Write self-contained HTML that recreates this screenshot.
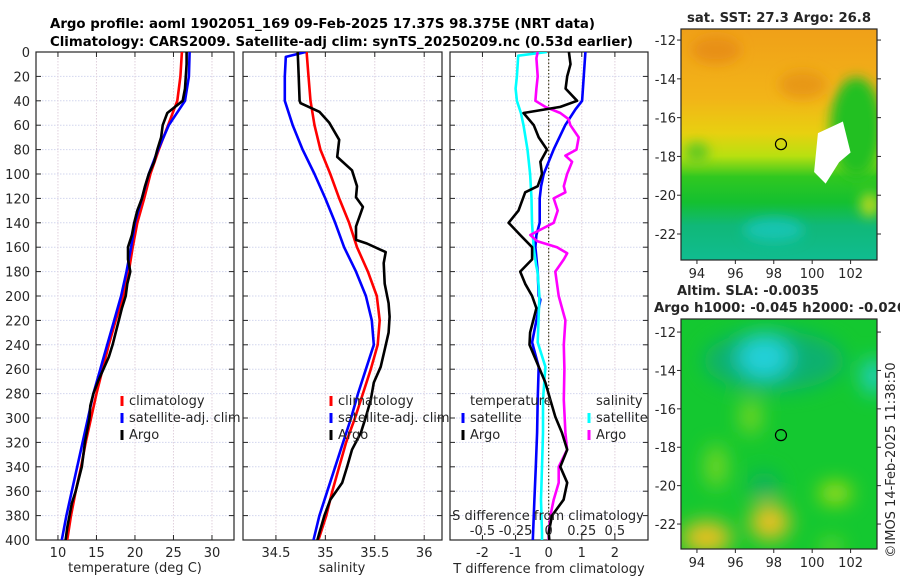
<!DOCTYPE html>
<html><head><meta charset="utf-8"><style>
html,body{margin:0;padding:0;background:#fff;}
svg{display:block;font-family:"DejaVu Sans","Liberation Sans",sans-serif;}
</style></head><body>
<svg id="fig" width="900" height="580" viewBox="0 0 900 580" xmlns="http://www.w3.org/2000/svg">
<defs>
<clipPath id="c1"><rect x="36" y="52" width="198" height="488"/></clipPath>
<clipPath id="c2"><rect x="243" y="52" width="199" height="488"/></clipPath>
<clipPath id="c3"><rect x="450" y="52" width="198" height="488"/></clipPath>
<clipPath id="cm1"><rect x="681" y="29" width="196" height="231"/></clipPath>
<clipPath id="cm2"><rect x="681" y="319" width="196" height="230"/></clipPath>
<filter id="blur6"><feGaussianBlur stdDeviation="6"/></filter>
<filter id="blur10"><feGaussianBlur stdDeviation="10"/></filter>
<linearGradient id="sstg" x1="0" y1="0" x2="0" y2="1">
<stop offset="0" stop-color="#f0a018"/><stop offset="0.3" stop-color="#f2b418"/>
<stop offset="0.45" stop-color="#e8d010"/><stop offset="0.55" stop-color="#b8e010"/>
<stop offset="0.64" stop-color="#30c820"/><stop offset="0.75" stop-color="#14c030"/>
<stop offset="0.85" stop-color="#10b878"/><stop offset="1" stop-color="#10bc90"/>
</linearGradient>
</defs>
<text x="50" y="28" font-size="13" font-weight="bold" textLength="545" lengthAdjust="spacingAndGlyphs">Argo profile: aoml 1902051_169 09-Feb-2025 17.37S 98.375E (NRT data)</text>
<text x="50" y="46" font-size="13" font-weight="bold" textLength="583" lengthAdjust="spacingAndGlyphs">Climatology: CARS2009. Satellite-adj clim: synTS_20250209.nc (0.53d earlier)</text>
<g id="axes"></g>
<g id="maps"></g>
</svg>
<script>
// ---------- data ----------
const depthStd = [0,20,40,60,80,100,120,140,160,180,200,220,240,260,280,300,320,340,360,380,400];
const depth10 = [0,10,20,30,40,50,60,70,80,90,100,110,120,130,140,150,160,170,180,190,200,210,220,230,240,250,260,270,280,290,300,310,320,330,340,350,360,370,380,390,400];
const tempClim = [26.1,25.9,25.5,24.3,23.1,22.0,21.2,20.3,19.7,19.2,18.5,17.5,16.6,15.8,15.0,14.3,13.6,13.0,12.3,11.7,11.2];
const tempSat = [27.1,27.0,26.5,24.4,23.0,21.8,20.9,20.0,19.5,18.9,18.2,17.3,16.4,15.5,14.6,13.9,13.2,12.5,11.8,11.1,10.5];
const tempArgo = [26.7,26.7,26.6,26.5,26.2,24.2,23.6,23.4,22.9,22.5,21.8,21.3,20.9,20.3,19.9,19.6,19.1,19.1,19.4,19.0,18.8,18.3,17.9,17.5,17.1,16.6,15.9,15.2,14.6,14.2,14.1,13.8,13.5,13.3,13.1,12.7,12.3,11.8,11.5,11.2,11.0];
const salClim = [34.81,34.83,34.85,34.89,34.95,35.05,35.14,35.24,35.32,35.43,35.52,35.55,35.53,35.46,35.38,35.30,35.21,35.14,35.07,35.01,34.93];
const salSatDepth = [0,4,20,40,60,80,100,120,140,160,180,200,220,240,260,280,300,320,340,360,380,400];
const salSat = [34.80,34.60,34.59,34.59,34.67,34.77,34.89,35.00,35.10,35.19,35.31,35.41,35.47,35.49,35.41,35.33,35.26,35.18,35.10,35.02,34.94,34.88];
const salArgoDepth = [0,20,40,42,49,58,72,86,97,110,119,127,143,154,157,164,173,190,206,217,230,244,258,271,285,299,312,326,340,353,367,380,394,400];
const salArgo = [34.72,34.73,34.74,34.75,34.94,35.04,35.14,35.12,35.27,35.32,35.31,35.38,35.31,35.31,35.42,35.61,35.59,35.60,35.64,35.65,35.64,35.60,35.56,35.49,35.46,35.41,35.36,35.27,35.22,35.17,35.05,34.99,34.94,34.92];
const dTSatDepth = [0,40,47,60,80,100,110,120,140,150,160,180,200,203,238,258,285,312,340,367,394,400];
const dTSat = [1.11,1.01,0.81,0.50,0.15,-0.15,-0.23,-0.27,-0.27,-0.37,-0.40,-0.33,-0.30,-0.25,-0.50,-0.30,-0.33,-0.35,-0.39,-0.43,-0.47,-0.48];
const dTArgoDepth = [0,10,20,30,40,45,50,60,70,80,90,100,110,115,130,140,150,160,170,180,190,200,210,230,240,258,271,285,299,312,326,340,353,367,380,394,400];
const dTArgo = [0.61,0.66,0.56,0.51,0.86,0.35,-0.76,-0.45,-0.30,-0.05,-0.25,-0.20,-0.33,-0.71,-0.91,-1.21,-0.86,-0.50,-0.50,-0.86,-0.71,-0.50,-0.37,-0.56,-0.58,-0.30,-0.10,0.05,0.20,0.40,0.56,0.35,0.56,0.45,0.10,0.00,0.02];
const dSSatDepth = [0,3,20,30,40,50,60,80,100,120,140,160,175,180,200,238,258,285,312,340,367,394,400];
const dSSat = [-0.013,-0.23,-0.24,-0.25,-0.24,-0.21,-0.19,-0.16,-0.14,-0.13,-0.126,-0.114,-0.094,-0.084,-0.07,-0.083,-0.025,-0.043,-0.043,-0.05,-0.058,-0.05,-0.05];
const dSArgoDepth = [0,5,20,30,40,45,50,55,60,70,80,85,90,100,110,115,120,130,140,145,150,155,160,165,170,180,200,220,240,260,285,312,326,340,353,367,380,394,400];
const dSArgo = [-0.083,-0.093,-0.083,-0.093,-0.10,-0.025,0.088,0.15,0.164,0.227,0.21,0.126,0.177,0.139,0.114,0.126,0.038,0.068,0.038,-0.05,-0.139,-0.088,0.063,0.14,0.114,0.05,0.076,0.126,0.114,0.119,0.114,0.126,0.139,0.076,0.076,0.038,0.013,0.0,0.0];
const yTicks = [0,20,40,60,80,100,120,140,160,180,200,220,240,260,280,300,320,340,360,380,400];
const tTicks = [10,15,20,25,30];
const sTicks = [34.5,35,35.5,36];
const sTickLabels = ["34.5","35","35.5","36"];
const dTTicks = [-2,-1,0,1,2];
const dSTicks = [-0.5,-0.25,0,0.25,0.5];
const dSTickLabels = ["-0.5","-0.25","0","0.25","0.5"];
const lonTicks = [94,96,98,100,102];
const latTicks = [-12,-14,-16,-18,-20,-22];
const argoLon = 98.375, argoLat = -17.37;

// ---------- scales ----------
const NS="http://www.w3.org/2000/svg";
const axes=document.getElementById('axes');
const Y0=52, Y1=540, D1=400;
const yD = d => Y0 + d*(Y1-Y0)/D1;
const panels = [
 {x0:36,x1:234,v0:7.15,v1:32.86,clip:'c1'},
 {x0:243,x1:442,v0:34.167,v1:36.18,clip:'c2'},
 {x0:450,x1:648,v0:-2.98,v1:3.0,clip:'c3'}
];
const xS = (p,v) => p.x0 + (v-p.v0)*(p.x1-p.x0)/(p.v1-p.v0);
function el(tag, attrs, parent){const e=document.createElementNS(NS,tag);for(const k in attrs)e.setAttribute(k,attrs[k]);(parent||axes).appendChild(e);return e;}
function txt(x,y,s,size,anchor,parent){const t=el('text',{x:x,y:y,'font-size':size,'text-anchor':anchor||'middle',fill:'#262626'},parent);t.textContent=s;return t;}

function panel(p, ticks, labels, name){
  const g=el('g',{});
  
  
  yTicks.forEach(d=>{
    const l=el('line',{x1:p.x0,x2:p.x1,y1:yD(d),y2:yD(d),stroke:'#d2d6ee','stroke-width':1,'stroke-dasharray':'1.5,1.5'},g);
    
    
    el('line',{x1:p.x0,x2:p.x0+5,y1:yD(d),y2:yD(d),stroke:'#262626'},g);
    el('line',{x1:p.x1-5,x2:p.x1,y1:yD(d),y2:yD(d),stroke:'#262626'},g);
  });
  ticks.forEach((v,i)=>{
    const x=xS(p,v);
    const l=el('line',{x1:x,x2:x,y1:Y0,y2:Y1,stroke:'#e0d0dc','stroke-width':1,'stroke-dasharray':'1.5,1.5'},g);
    
    
    el('line',{x1:x,x2:x,y1:Y1-5,y2:Y1,stroke:'#262626'},g);
    el('line',{x1:x,x2:x,y1:Y0,y2:Y0+5,stroke:'#262626'},g);
    const t=txt(x,557,labels[i],13,'middle',g);
    
    
  });
  const r=el('rect',{x:p.x0,y:Y0,width:p.x1-p.x0,height:Y1-Y0,fill:'none',stroke:'#262626','stroke-width':1.2},g);
  
  
  return g;
}
function series(p, depths, vals, color, name, scale){
  scale = scale||1;
  const pts = depths.map((d,i)=>xS(p,vals[i]*scale).toFixed(1)+','+yD(d).toFixed(1)).join(' ');
  const pl=el('polyline',{points:pts,fill:'none',stroke:color,'stroke-width':2.6,'stroke-linejoin':'round','clip-path':'url(#'+p.clip+')'});
  
  
}
function legend(x,y,color,label,name){
  const m=el('line',{x1:x,x2:x,y1:y-9,y2:y+1,stroke:color,'stroke-width':3});
  
  
  const t=txt(x+7,y,label,13,'start');
  
  
}

// panel 1
panel(panels[0], tTicks, tTicks.map(String), 'temperature');
yTicks.forEach(d=>{const t=txt(30,yD(d)+5,String(d),13,'end');
  
  });
let t1=txt(135,572,'temperature (deg C)',13,'middle');


series(panels[0], depthStd, tempClim, '#ff0000', 'temp-climatology-line');
series(panels[0], depthStd, tempSat, '#0000ff', 'temp-satellite-line');
series(panels[0], depth10, tempArgo, '#000000', 'temp-argo-line');
legend(122,405,'#ff0000','climatology','temp-legend-climatology');
legend(122,422,'#0000ff','satellite-adj. clim','temp-legend-satellite');
legend(122,439,'#000000','Argo','temp-legend-argo');

// panel 2
panel(panels[1], sTicks, sTickLabels, 'salinity');
let t2=txt(342,572,'salinity',13,'middle');


series(panels[1], depthStd, salClim, '#ff0000', 'sal-climatology-line');
series(panels[1], salSatDepth, salSat, '#0000ff', 'sal-satellite-line');
series(panels[1], salArgoDepth, salArgo, '#000000', 'sal-argo-line');
legend(331,405,'#ff0000','climatology','sal-legend-climatology');
legend(331,422,'#0000ff','satellite-adj. clim','sal-legend-satellite');
legend(331,439,'#000000','Argo','sal-legend-argo');

// panel 3
panel(panels[2], dTTicks, dTTicks.map(String), 'difference');
const zx=xS(panels[2],0);
let zl=el('line',{x1:zx,x2:zx,y1:Y0,y2:Y1,stroke:'#404020','stroke-width':1.2,'stroke-dasharray':'1.5,2'});


series(panels[2], dTSatDepth, dTSat, '#0000ff', 'dT-satellite-line');
series(panels[2], dSSatDepth, dSSat, '#00ffff', 'dS-satellite-line', 4);
series(panels[2], dSArgoDepth, dSArgo, '#ff00ff', 'dS-argo-line', 4);
series(panels[2], dTArgoDepth, dTArgo, '#000000', 'dT-argo-line');
let t3=txt(549,573,'T difference from climatology',13,'middle');


let t4=txt(548,520,'S difference from climatology',13,'middle');


dSTicks.forEach((v,i)=>{const t=txt(xS(panels[2],v*4),535,dSTickLabels[i],13,'middle');
  
  });
let lt=txt(470,405,'temperature',13,'start');


let ls=txt(596,405,'salinity',13,'start');


legend(463,422,'#0000ff','satellite','diff-legend-t-satellite');
legend(463,439,'#000000','Argo','diff-legend-t-argo');
legend(589,422,'#00ffff','satellite','diff-legend-s-satellite');
legend(589,439,'#ff00ff','Argo','diff-legend-s-argo');

// ---------- maps ----------
const maps=document.getElementById('maps');
const m1={x0:681,x1:877,y0:29,y1:260,lon0:93.17,lon1:103.375,lat0:-11.43,lat1:-23.34,clip:'cm1'};
const m2={x0:681,x1:877,y0:319,y1:549,lon0:93.17,lon1:103.375,lat0:-11.32,lat1:-23.3,clip:'cm2'};
const mx=(m,lon)=>m.x0+(lon-m.lon0)*(m.x1-m.x0)/(m.lon1-m.lon0);
const my=(m,lat)=>m.y0+(lat-m.lat0)*(m.y1-m.y0)/(m.lat1-m.lat0);
function mapAxes(m,name){
  const fr=el('rect',{x:m.x0,y:m.y0,width:m.x1-m.x0,height:m.y1-m.y0,fill:'none',stroke:'#262626','stroke-width':1.2},maps);
  
  
  lonTicks.forEach(v=>{const x=mx(m,v);
    el('line',{x1:x,x2:x,y1:m.y1,y2:m.y1+4,stroke:'#262626'},maps);
    const t=txt(x,m.y1+18,String(v),13,'middle',maps);
    
    });
  latTicks.forEach(v=>{const y=my(m,v);
    el('line',{x1:m.x0-4,x2:m.x0,y1:y,y2:y,stroke:'#262626'},maps);
    el('line',{x1:m.x1,x2:m.x1+4,y1:y,y2:y,stroke:'#262626'},maps);
    const t=txt(m.x0-5,y+5,String(v),13,'end',maps);
    
    });
  const c=el('circle',{cx:mx(m,argoLon),cy:my(m,argoLat),r:5.5,fill:'none',stroke:'#000','stroke-width':1.2},maps);
  
  
}
// SST map
const g1=el('g',{'clip-path':'url(#cm1)'},maps);


el('rect',{x:681,y:29,width:196,height:231,fill:'url(#sstg)'},g1);
const gb1=el('g',{filter:'url(#blur6)'},g1);
el('ellipse',{cx:mx(m1,102.3),cy:my(m1,-16.5),rx:26,ry:50,fill:'#20c020'},gb1);
el('ellipse',{cx:mx(m1,99.5),cy:my(m1,-14.3),rx:24,ry:14,fill:'#e89818'},gb1);
el('ellipse',{cx:mx(m1,95),cy:my(m1,-12.5),rx:25,ry:14,fill:'#e89018'},gb1);
el('ellipse',{cx:mx(m1,94),cy:my(m1,-17.8),rx:12,ry:10,fill:'#60c820'},gb1);
el('ellipse',{cx:mx(m1,98),cy:my(m1,-21.8),rx:30,ry:12,fill:'#18c4b0'},gb1);
el('ellipse',{cx:mx(m1,103),cy:my(m1,-20.5),rx:10,ry:12,fill:'#b0d820'},gb1);
el('path',{d:'M'+mx(m1,100.3)+' '+my(m1,-16.8)+' L'+mx(m1,101.6)+' '+my(m1,-16.2)+' L'+mx(m1,102)+' '+my(m1,-17.8)+' L'+mx(m1,101.4)+' '+my(m1,-18.3)+' L'+mx(m1,100.7)+' '+my(m1,-19.4)+' L'+mx(m1,100.1)+' '+my(m1,-18.8)+' Z',fill:'#ffffff'},g1);
mapAxes(m1,'sst-map');
let mt1=txt(779,22,'sat. SST: 27.3 Argo: 26.8',13,'middle',maps);
mt1.setAttribute('font-weight','bold');
mt1.setAttribute('textLength','184');
mt1.setAttribute('lengthAdjust','spacingAndGlyphs');


// SLA map
const g2=el('g',{'clip-path':'url(#cm2)'},maps);


el('rect',{x:681,y:319,width:196,height:230,fill:'#14c830'},g2);
const gb2=el('g',{filter:'url(#blur10)'},g2);
el('ellipse',{cx:mx(m2,98),cy:my(m2,-13.5),rx:70,ry:30,fill:'#10b070'},gb2);
el('ellipse',{cx:mx(m2,97.5),cy:my(m2,-13.3),rx:26,ry:22,fill:'#20d0d8'},gb2);
el('ellipse',{cx:mx(m2,103.2),cy:my(m2,-14.3),rx:12,ry:18,fill:'#20d0c8'},gb2);
el('ellipse',{cx:mx(m2,96.8),cy:my(m2,-16.4),rx:10,ry:18,fill:'#80d820'},gb2);
el('ellipse',{cx:mx(m2,95),cy:my(m2,-19),rx:10,ry:22,fill:'#80d820'},gb2);
el('ellipse',{cx:mx(m2,94.5),cy:my(m2,-22.7),rx:25,ry:16,fill:'#f0c020'},gb2);
el('ellipse',{cx:mx(m2,97.8),cy:my(m2,-21.9),rx:20,ry:18,fill:'#f0c020'},gb2);
el('ellipse',{cx:mx(m2,101.2),cy:my(m2,-20.4),rx:16,ry:10,fill:'#c0e010'},gb2);
el('ellipse',{cx:mx(m2,101),cy:my(m2,-23.2),rx:10,ry:6,fill:'#a0e020'},gb2);
el('ellipse',{cx:mx(m2,97.5),cy:my(m2,-20),rx:15,ry:14,fill:'#10b060'},gb2);
mapAxes(m2,'sla-map');
let mt2=txt(748,295,'Altim. SLA: -0.0035',13,'middle',maps);
mt2.setAttribute('font-weight','bold');
mt2.setAttribute('textLength','142');
mt2.setAttribute('lengthAdjust','spacingAndGlyphs');


let mt3=txt(654,312,'Argo h1000: -0.045 h2000: -0.026',13,'start',maps);
mt3.setAttribute('font-weight','bold');
mt3.setAttribute('textLength','252');
mt3.setAttribute('lengthAdjust','spacingAndGlyphs');


let cr=txt(0,0,'©IMOS 14-Feb-2025 11:38:50',13,'middle',maps);
cr.setAttribute('transform','translate(895,460) rotate(-90)');


</script>
</body></html>
